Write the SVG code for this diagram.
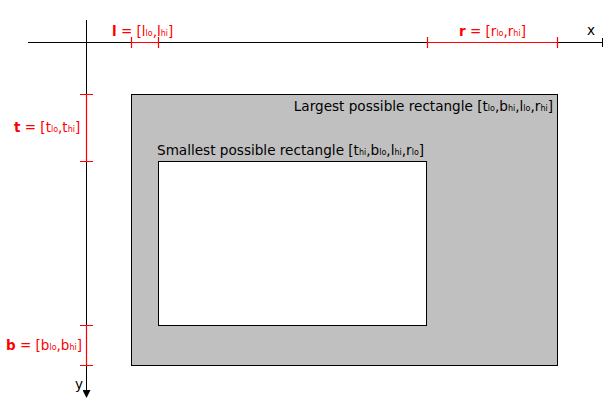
<svg xmlns="http://www.w3.org/2000/svg" width="603" height="407" viewBox="0 0 603 407">
<defs>
<style>
text{font-family:"DejaVu Sans",sans-serif;}
.axis{stroke:#000;stroke-width:1;fill:none}
.iv{stroke:#ff0000;stroke-width:1.2;fill:none}
.lab{fill:#ff0000;font-size:13.5px}
.b{font-weight:bold}
.blk{fill:#000;font-size:13.6px}
.sub{font-size:8px}
</style>
<marker id="arr" markerWidth="8" markerHeight="8" refX="4" refY="4" orient="auto" markerUnits="userSpaceOnUse"><path d="M0,0 L8,4 L0,8 z" fill="#000"/></marker>
</defs>
<rect width="603" height="407" fill="#fff"/>
<g id="large-rect"><rect x="131.5" y="94.5" width="426" height="271" fill="#c0c0c0" stroke="#000"/>
<text class="blk" x="553" y="111" text-anchor="end">Largest possible rectangle [t<tspan class="sub">lo</tspan>,b<tspan class="sub">hi</tspan>,l<tspan class="sub">lo</tspan>,r<tspan class="sub">hi</tspan>]</text></g>
<g id="small-rect"><rect x="158.5" y="161.5" width="268" height="164" fill="#fff" stroke="#000"/>
<text class="blk" x="157" y="155">Smallest possible rectangle [t<tspan class="sub">hi</tspan>,b<tspan class="sub">lo</tspan>,l<tspan class="sub">hi</tspan>,r<tspan class="sub">lo</tspan>]</text></g>
<g id="connectors">
<line class="axis" x1="28" y1="42.5" x2="603" y2="42.5"/>
<line class="axis" x1="602.5" y1="38" x2="602.5" y2="47"/>
<line class="axis" x1="86.5" y1="20" x2="86.5" y2="394" marker-end="url(#arr)"/>
<path class="iv" d="M131.5,42.5H158.5M131.5,37V48M158.5,37V48"/>
<path class="iv" d="M427.5,42.5H557.5M427.5,37V48M557.5,37V48"/>
<path class="iv" d="M86.5,94.5V161.5M80,94.5H93M80,161.5H93"/>
<path class="iv" d="M86.5,325.5V365.5M80,325.5H93M80,365.5H93"/>
</g>
<g id="axis-labels">
<text class="blk" x="587" y="35" font-size="13">x</text>
<text class="blk" x="75" y="389" font-size="13">y</text>
</g>
<g id="interval-labels">
<text class="lab" x="112" y="36"><tspan class="b">l</tspan> = [l<tspan class="sub">lo</tspan>,l<tspan class="sub">hi</tspan>]</text>
<text class="lab" x="459" y="36"><tspan class="b">r</tspan> = [r<tspan class="sub">lo</tspan>,r<tspan class="sub">hi</tspan>]</text>
<text class="lab" x="14" y="132"><tspan class="b">t</tspan> = [t<tspan class="sub">lo</tspan>,t<tspan class="sub">hi</tspan>]</text>
<text class="lab" x="6" y="350"><tspan class="b">b</tspan> = [b<tspan class="sub">lo</tspan>,b<tspan class="sub">hi</tspan>]</text>
</g>
</svg>
